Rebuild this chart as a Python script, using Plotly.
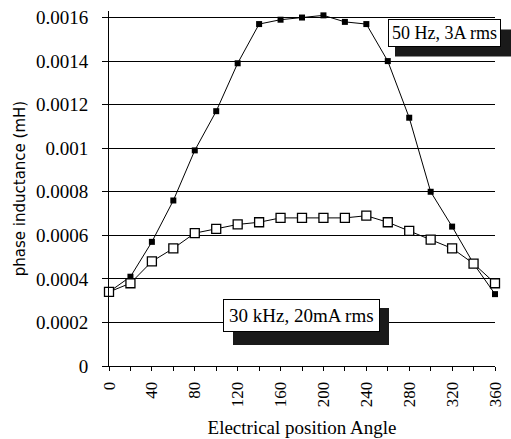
import plotly.graph_objects as go

angles = [0, 20, 40, 60, 80, 100, 120, 140, 160, 180, 200, 220, 240, 260, 280, 300, 320, 340, 360]
l_50hz = [0.00034, 0.00041, 0.00057, 0.00076, 0.00099, 0.00117, 0.00139, 0.00157, 0.00159, 0.00160,
          0.00161, 0.00158, 0.00157, 0.00140, 0.00114, 0.00080, 0.00064, 0.00047, 0.00033]
l_30khz = [0.00034, 0.00038, 0.00048, 0.00054, 0.00061, 0.00063, 0.00065, 0.00066, 0.00068, 0.00068,
           0.00068, 0.00068, 0.00069, 0.00066, 0.00062, 0.00058, 0.00054, 0.00047, 0.00038]
x_ticks = [0, 40, 80, 120, 160, 200, 240, 280, 320, 360]
y_ticks = [0, 0.0002, 0.0004, 0.0006, 0.0008, 0.001, 0.0012, 0.0014, 0.0016]
y_labels = ["0", "0.0002", "0.0004", "0.0006", "0.0008", "0.001", "0.0012", "0.0014", "0.0016"]
label_50 = "50 Hz, 3A rms"
label_30k = "30 kHz, 20mA rms"

fig = go.Figure()
fig.add_trace(go.Scatter(x=angles, y=l_50hz, mode="lines+markers",
                         line=dict(color="black", width=1),
                         marker=dict(symbol="square", size=6, color="black"),
                         showlegend=False, cliponaxis=False))
fig.add_trace(go.Scatter(x=angles, y=l_30khz, mode="lines+markers",
                         line=dict(color="black", width=1),
                         marker=dict(symbol="square", size=9, color="white",
                                     line=dict(color="black", width=1.3)),
                         showlegend=False, cliponaxis=False))

W, H = 511, 439
Y_MAX = 0.00163
L, R, B = 109, 495, 366
T = 18 - (Y_MAX - 0.0016) / 0.0016 * (366 - 18)


def px_x(p):
    return (p - L) / (R - L)


def px_y(p):
    return (B - p) / (B - T)


fig.add_shape(type="rect", xref="paper", yref="paper",
              x0=px_x(395), x1=px_x(511), y0=px_y(57), y1=px_y(30),
              fillcolor="#1a1a1a", line=dict(width=0), layer="above")
fig.add_shape(type="rect", xref="paper", yref="paper",
              x0=px_x(233), x1=px_x(389), y0=px_y(345), y1=px_y(308),
              fillcolor="#1a1a1a", line=dict(width=0), layer="above")

fig.add_annotation(xref="paper", yref="paper", x=px_x(444), y=px_y(33.5),
                   xanchor="center", yanchor="middle",
                   text=label_50, showarrow=False, bgcolor="white",
                   bordercolor="black", borderwidth=1, borderpad=3,
                   font=dict(family="Liberation Serif", size=18, color="black"))
fig.add_annotation(xref="paper", yref="paper", x=px_x(301), y=px_y(315.5),
                   xanchor="center", yanchor="middle",
                   text=label_30k, showarrow=False, bgcolor="white",
                   bordercolor="black", borderwidth=1, borderpad=5,
                   font=dict(family="Liberation Serif", size=19, color="black"))

fig.update_layout(
    width=W, height=H,
    margin=dict(l=L, r=W - R, t=T, b=H - B),
    paper_bgcolor="white", plot_bgcolor="white",
    font=dict(family="Liberation Serif", size=17, color="black"),
    xaxis=dict(range=[0, 360], tickvals=x_ticks, tickangle=-90, automargin=False,
               showgrid=False, zeroline=False, showline=True, linecolor="black", linewidth=1,
               ticks="outside", ticklen=4, tickcolor="black", ticklabelstandoff=4,
               tickfont=dict(family="Liberation Serif", size=17),
               minor=dict(dtick=20, ticks="outside", ticklen=4, tickcolor="black"),
               title=dict(text="Electrical position Angle", standoff=14,
                          font=dict(family="Liberation Serif", size=19))),
    xaxis2=dict(range=[0, 360], overlaying="x", anchor="y", side="bottom",
                dtick=20, tick0=0, ticks="inside", ticklen=4, tickcolor="black",
                showticklabels=False, showgrid=False, zeroline=False, showline=False,
                automargin=False),
    yaxis=dict(range=[0, Y_MAX], tickvals=y_ticks, ticktext=y_labels, automargin=False,
               showgrid=True, gridcolor="black", gridwidth=1, zeroline=False,
               showline=True, linecolor="black", linewidth=1,
               ticks="outside", ticklen=6, tickcolor="black", ticklabelstandoff=10,
               tickfont=dict(family="Liberation Serif", size=19),
               title=dict(text="phase inductance (mH)", standoff=6,
                          font=dict(family="DejaVu Sans", size=15))),
)

fig.write_html("out.html", config={"displayModeBar": False},
               post_script="document.body.style.margin='0';document.body.style.padding='0';"
                           "document.body.style.overflow='hidden';")
